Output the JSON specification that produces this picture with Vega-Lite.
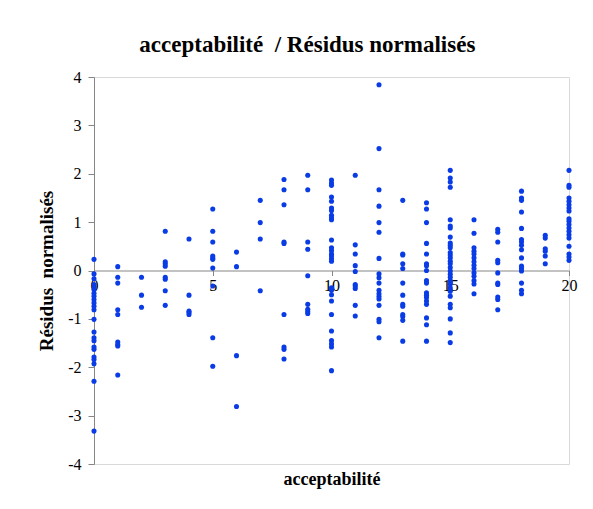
{
  "$schema": "https://vega.github.io/schema/vega-lite/v6.json",
  "width": 475,
  "height": 387,
  "autosize": {"type": "none"},
  "padding": {"left": 94, "top": 77, "right": 24, "bottom": 45},
  "background": "white",
  "title": {"text": "acceptabilité\u00a0 / Résidus normalisés", "anchor": "middle", "frame": "bounds", "offset": 12, "font": "Liberation Serif", "fontSize": 23, "fontWeight": "bold", "color": "black"},
  "config": {"view": {"stroke": "#d9d9d9", "strokeWidth": 1}},
  "data": {"values": [
    {"x":0,"y":0.23},{"x":0,"y":-0.07},{"x":0,"y":-0.17},{"x":0,"y":-0.29},{"x":0,"y":-0.34},{"x":0,"y":-0.40},{"x":0,"y":-0.47},{"x":0,"y":-0.53},{"x":0,"y":-0.60},{"x":0,"y":-0.67},{"x":0,"y":-0.74},{"x":0,"y":-0.81},{"x":0,"y":-1.01},{"x":0,"y":-1.27},{"x":0,"y":-1.39},{"x":0,"y":-1.45},{"x":0,"y":-1.58},{"x":0,"y":-1.63},{"x":0,"y":-1.79},{"x":0,"y":-1.84},{"x":0,"y":-1.93},{"x":0,"y":-2.29},{"x":0,"y":-3.32},
    {"x":1,"y":0.08},{"x":1,"y":-0.14},{"x":1,"y":-0.26},{"x":1,"y":-0.81},{"x":1,"y":-0.91},{"x":1,"y":-1.48},{"x":1,"y":-1.53},{"x":1,"y":-1.56},{"x":1,"y":-2.16},
    {"x":2,"y":-0.14},{"x":2,"y":-0.51},{"x":2,"y":-0.76},
    {"x":3,"y":0.81},{"x":3,"y":0.18},{"x":3,"y":0.14},{"x":3,"y":0.09},{"x":3,"y":-0.14},{"x":3,"y":-0.18},{"x":3,"y":-0.42},{"x":3,"y":-0.72},
    {"x":4,"y":0.65},{"x":4,"y":-0.51},{"x":4,"y":-0.84},{"x":4,"y":-0.87},{"x":4,"y":-0.91},
    {"x":5,"y":1.27},{"x":5,"y":0.81},{"x":5,"y":0.59},{"x":5,"y":0.30},{"x":5,"y":0.26},{"x":5,"y":0.23},{"x":5,"y":0.05},{"x":5,"y":-0.32},{"x":5,"y":-1.39},{"x":5,"y":-1.98},
    {"x":6,"y":0.38},{"x":6,"y":0.08},{"x":6,"y":-1.76},{"x":6,"y":-2.81},
    {"x":7,"y":1.45},{"x":7,"y":0.99},{"x":7,"y":0.65},{"x":7,"y":-0.42},
    {"x":8,"y":1.88},{"x":8,"y":1.67},{"x":8,"y":1.36},{"x":8,"y":0.59},{"x":8,"y":0.56},{"x":8,"y":-0.91},{"x":8,"y":-1.58},{"x":8,"y":-1.63},{"x":8,"y":-1.83},
    {"x":9,"y":1.97},{"x":9,"y":1.67},{"x":9,"y":0.59},{"x":9,"y":0.44},{"x":9,"y":-0.11},{"x":9,"y":-0.70},{"x":9,"y":-0.80},{"x":9,"y":-0.85},{"x":9,"y":-0.89},
    {"x":10,"y":1.87},{"x":10,"y":1.81},{"x":10,"y":1.76},{"x":10,"y":1.52},{"x":10,"y":1.43},{"x":10,"y":1.29},{"x":10,"y":1.24},{"x":10,"y":1.14},{"x":10,"y":1.09},{"x":10,"y":1.05},{"x":10,"y":0.63},{"x":10,"y":0.47},{"x":10,"y":0.41},{"x":10,"y":0.34},{"x":10,"y":0.30},{"x":10,"y":0.24},{"x":10,"y":0.19},{"x":10,"y":-0.36},{"x":10,"y":-0.41},{"x":10,"y":-0.50},{"x":10,"y":-0.63},{"x":10,"y":-0.91},{"x":10,"y":-1.25},{"x":10,"y":-1.45},{"x":10,"y":-1.52},{"x":10,"y":-1.58},{"x":10,"y":-2.07},
    {"x":11,"y":1.97},{"x":11,"y":0.53},{"x":11,"y":0.34},{"x":11,"y":0.10},{"x":11,"y":-0.02},{"x":11,"y":-0.29},{"x":11,"y":-0.32},{"x":11,"y":-0.37},{"x":11,"y":-0.72},{"x":11,"y":-0.94},
    {"x":12,"y":3.84},{"x":12,"y":2.52},{"x":12,"y":1.67},{"x":12,"y":1.33},{"x":12,"y":0.99},{"x":12,"y":0.79},{"x":12,"y":0.25},{"x":12,"y":-0.07},{"x":12,"y":-0.15},{"x":12,"y":-0.26},{"x":12,"y":-0.41},{"x":12,"y":-0.48},{"x":12,"y":-0.54},{"x":12,"y":-0.59},{"x":12,"y":-0.72},{"x":12,"y":-1.01},{"x":12,"y":-1.06},{"x":12,"y":-1.39},
    {"x":13,"y":1.45},{"x":13,"y":0.34},{"x":13,"y":0.32},{"x":13,"y":0.14},{"x":13,"y":0.04},{"x":13,"y":-0.26},{"x":13,"y":-0.51},{"x":13,"y":-0.70},{"x":13,"y":-0.74},{"x":13,"y":-0.91},{"x":13,"y":-0.95},{"x":13,"y":-1.03},{"x":13,"y":-1.46},
    {"x":14,"y":1.40},{"x":14,"y":1.27},{"x":14,"y":0.99},{"x":14,"y":0.56},{"x":14,"y":0.34},{"x":14,"y":0.14},{"x":14,"y":0.10},{"x":14,"y":0.0},{"x":14,"y":-0.21},{"x":14,"y":-0.26},{"x":14,"y":-0.46},{"x":14,"y":-0.51},{"x":14,"y":-0.56},{"x":14,"y":-0.63},{"x":14,"y":-0.70},{"x":14,"y":-0.98},{"x":14,"y":-1.12},{"x":14,"y":-1.46},
    {"x":15,"y":2.07},{"x":15,"y":1.91},{"x":15,"y":1.83},{"x":15,"y":1.72},{"x":15,"y":1.05},{"x":15,"y":0.92},{"x":15,"y":0.88},{"x":15,"y":0.69},{"x":15,"y":0.57},{"x":15,"y":0.52},{"x":15,"y":0.47},{"x":15,"y":0.37},{"x":15,"y":0.32},{"x":15,"y":0.26},{"x":15,"y":0.19},{"x":15,"y":0.14},{"x":15,"y":0.06},{"x":15,"y":-0.01},{"x":15,"y":-0.08},{"x":15,"y":-0.14},{"x":15,"y":-0.21},{"x":15,"y":-0.28},{"x":15,"y":-0.36},{"x":15,"y":-0.43},{"x":15,"y":-0.53},{"x":15,"y":-0.70},{"x":15,"y":-0.77},{"x":15,"y":-1.00},{"x":15,"y":-1.29},{"x":15,"y":-1.49},
    {"x":16,"y":1.05},{"x":16,"y":0.77},{"x":16,"y":0.47},{"x":16,"y":0.40},{"x":16,"y":0.34},{"x":16,"y":0.26},{"x":16,"y":0.18},{"x":16,"y":0.11},{"x":16,"y":0.04},{"x":16,"y":-0.05},{"x":16,"y":-0.12},{"x":16,"y":-0.21},{"x":16,"y":-0.28},{"x":16,"y":-0.48},
    {"x":17,"y":0.85},{"x":17,"y":0.79},{"x":17,"y":0.59},{"x":17,"y":0.21},{"x":17,"y":0.16},{"x":17,"y":-0.05},{"x":17,"y":-0.26},{"x":17,"y":-0.29},{"x":17,"y":-0.55},{"x":17,"y":-0.60},{"x":17,"y":-0.81},
    {"x":18,"y":1.64},{"x":18,"y":1.50},{"x":18,"y":1.45},{"x":18,"y":1.21},{"x":18,"y":0.87},{"x":18,"y":0.64},{"x":18,"y":0.59},{"x":18,"y":0.52},{"x":18,"y":0.43},{"x":18,"y":0.26},{"x":18,"y":0.09},{"x":18,"y":0.04},{"x":18,"y":-0.01},{"x":18,"y":-0.26},{"x":18,"y":-0.41},{"x":18,"y":-0.48},
    {"x":19,"y":0.73},{"x":19,"y":0.67},{"x":19,"y":0.45},{"x":19,"y":0.40},{"x":19,"y":0.30},{"x":19,"y":0.14},
    {"x":20,"y":2.07},{"x":20,"y":1.76},{"x":20,"y":1.72},{"x":20,"y":1.50},{"x":20,"y":1.43},{"x":20,"y":1.36},{"x":20,"y":1.29},{"x":20,"y":1.23},{"x":20,"y":1.07},{"x":20,"y":1.02},{"x":20,"y":0.95},{"x":20,"y":0.88},{"x":20,"y":0.81},{"x":20,"y":0.74},{"x":20,"y":0.67},{"x":20,"y":0.50},{"x":20,"y":0.34},{"x":20,"y":0.28},{"x":20,"y":0.21}
  ]},
  "mark": {"type": "point", "filled": true, "shape": "circle", "size": 26, "color": "#0a3ce6", "opacity": 1},
  "encoding": {
    "x": {"field": "x", "type": "quantitative",
      "scale": {"domain": [0, 20], "nice": false, "zero": false},
      "axis": {"orient": "bottom", "offset": -193.5, "values": [0, 5, 10, 15, 20], "grid": false,
        "domainColor": "#868686", "tickColor": "#868686", "tickSize": 5,
        "labelFont": "Liberation Serif", "labelFontSize": 16, "labelColor": "black", "labelPadding": 2, "labelFlush": false,
        "title": "acceptabilité", "titleFont": "Liberation Serif", "titleFontSize": 18, "titleFontWeight": "bold", "titleColor": "black", "titleY": 200}},
    "y": {"field": "y", "type": "quantitative",
      "scale": {"domain": [-4, 4], "nice": false, "zero": false},
      "axis": {"values": [-4, -3, -2, -1, 0, 1, 2, 3, 4], "grid": false,
        "labelExpr": "replace(datum.label, '\u2212', '-')",
        "domainColor": "#868686", "tickColor": "#868686", "tickSize": 6,
        "labelFont": "Liberation Serif", "labelFontSize": 16, "labelColor": "black", "labelPadding": 7, "labelFlush": false,
        "title": "Résidus\u00a0\u00a0normalisés", "titleFont": "Liberation Serif", "titleFontSize": 19, "titleFontWeight": "bold", "titleColor": "black", "titlePadding": 11}}
  }
}
